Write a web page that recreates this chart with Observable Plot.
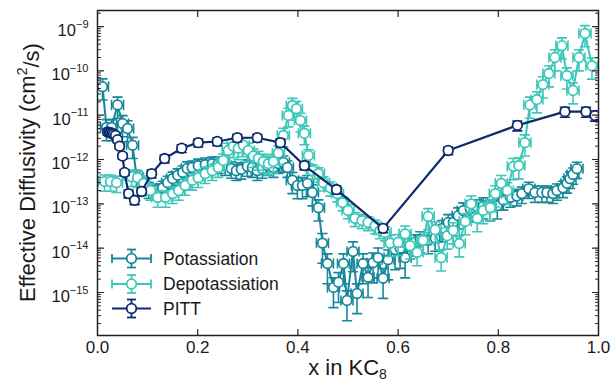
<!DOCTYPE html>
<html><head><meta charset="utf-8">
<script src="https://cdn.jsdelivr.net/npm/d3@7"></script>
<script src="https://cdn.jsdelivr.net/npm/@observablehq/plot@0.6"></script>
<style>body{margin:0;background:#fff}</style>
</head><body><div id="chart"></div>
<script>
// ---------- data ----------
const potX = [0.010,0.018,0.028,0.040,0.050,0.060,0.070,0.078,0.090,0.102,0.116,0.130,0.140,0.150,0.160,0.170,0.179,0.189,0.201,0.215,0.229,0.241,0.255,0.267,0.277,0.287,0.299,0.309,0.319,0.329,0.339,0.351,0.361,0.371,0.379,0.389,0.399,0.409,0.419,0.429,0.441,0.449,0.459,0.471,0.481,0.491,0.498,0.510,0.518,0.530,0.540,0.550,0.560,0.570,0.580,0.594,0.604,0.614,0.624,0.634,0.644,0.660,0.674,0.688,0.700,0.710,0.720,0.730,0.744,0.758,0.770,0.784,0.798,0.810,0.824,0.837,0.847,0.861,0.873,0.887,0.897,0.909,0.917,0.929,0.937,0.943,0.949,0.957];
const potY = [4.4e-11,5.3e-12,5.3e-12,1.7e-11,6.5e-12,5.0e-12,2.1e-12,4.1e-13,3.0e-13,2.2e-13,2.0e-13,2.3e-13,3.0e-13,3.7e-13,4.4e-13,5.1e-13,6.3e-13,6.6e-13,7.3e-13,7.7e-13,8.1e-13,8.1e-13,7.3e-13,6.3e-13,5.6e-13,6.0e-13,7.0e-13,6.6e-13,5.6e-13,6.3e-13,7.3e-13,6.6e-13,8.1e-13,8.6e-13,6.6e-13,3.4e-13,2.6e-13,2.6e-13,2.9e-13,1.8e-13,8.2e-14,1.3e-14,4.5e-15,1.3e-15,1.7e-15,4.5e-15,6.6e-16,8.4e-15,9.5e-16,4.5e-15,2.2e-15,4.7e-15,6.1e-15,2.1e-15,5.5e-15,9.3e-15,1.0e-14,6.1e-15,1.14e-14,1.34e-14,1.56e-14,1.5e-14,1.7e-14,2.8e-14,3.8e-14,3.8e-14,5.4e-14,7.0e-14,7.8e-14,8.2e-14,9.1e-14,8.2e-14,9.1e-14,1.2e-13,1.4e-13,1.5e-13,1.7e-13,2.2e-13,1.8e-13,1.8e-13,1.8e-13,1.7e-13,2.0e-13,2.3e-13,2.9e-13,3.7e-13,4.6e-13,6.2e-13];
// relative (linear) y error of each point
const potErr = [0.5,0.5,0.5,0.5,0.5,0.5,0.5,
  0.4,0.4,0.4,0.4,0.4,0.4,0.4,0.4,0.4,0.4,0.4,0.4,0.4,0.4,0.4,0.4,0.4,0.4,0.4,0.4,0.4,0.4,0.4,0.4,0.4,0.4,0.4,0.4,
  0.5,0.5,0.5,0.5,0.5,0.5,
  0.65,0.65,0.65,0.65,0.65,0.65,0.65,0.65,0.65,0.65,0.65,0.65,0.65,0.65,0.65,0.65,0.65,
  0.5,0.5,0.5,0.5,0.5,0.5,0.5,0.5,0.5,0.5,0.5,0.5,0.5,0.5,0.5,
  0.4,0.4,0.4,0.4,0.4,0.4,0.4,0.4,0.4,0.4,0.4,0.4,0.4,0.4,0.4];
const potXErr = 0.012;

const depX = [0.014,0.026,0.038,0.068,0.080,0.092,0.106,0.120,0.136,0.150,0.162,0.175,0.189,0.201,0.215,0.229,0.241,0.251,0.261,0.271,0.281,0.291,0.301,0.311,0.321,0.331,0.341,0.351,0.361,0.371,0.381,0.389,0.397,0.405,0.413,0.421,0.429,0.441,0.451,0.465,0.479,0.489,0.500,0.514,0.528,0.540,0.554,0.564,0.574,0.584,0.600,0.614,0.624,0.638,0.650,0.660,0.674,0.686,0.698,0.710,0.722,0.734,0.746,0.758,0.770,0.784,0.794,0.806,0.818,0.830,0.841,0.853,0.863,0.877,0.889,0.901,0.913,0.927,0.937,0.949,0.961,0.973,0.987];
const depY = [3.2e-13,3.2e-13,3.0e-13,4.1e-13,3.9e-13,2.9e-13,2.0e-13,1.4e-13,1.4e-13,1.7e-13,2.0e-13,2.6e-13,3.4e-13,3.9e-13,4.8e-13,5.6e-13,6.6e-13,9.5e-13,1.6e-12,2.0e-12,1.8e-12,2.1e-12,1.6e-12,1.2e-12,1.05e-12,9.0e-13,8.1e-13,9.0e-13,1.4e-12,3.5e-12,9.9e-12,1.65e-11,1.4e-11,7.6e-12,3.9e-12,1.23e-12,5.6e-13,4.8e-13,3.0e-13,2.3e-13,1.7e-13,1.07e-13,7.1e-14,4.7e-14,4.2e-14,3.8e-14,3.2e-14,2.5e-14,2.25e-14,1.3e-14,1.35e-14,2.1e-14,1.14e-14,8.0e-15,1.5e-14,5.2e-14,2.6e-14,6.1e-15,1.9e-14,2.5e-14,1.27e-14,4.0e-14,1.0e-13,4.7e-14,7.1e-14,8.2e-14,1.7e-13,2.9e-13,2.0e-13,7.0e-13,7.3e-13,2.4e-12,1.7e-11,2.25e-11,4.9e-11,8.7e-11,2.0e-10,3.7e-10,7.8e-11,3.6e-11,2.0e-10,7.0e-10,1.3e-10];
const depErr = [0.4,0.4,0.4,0.4,0.4,0.4,0.4,0.4,0.4,0.4,0.4,0.4,0.4,0.4,0.4,0.4,0.4,0.4,
  0.45,0.45,0.45,0.45,0.45,0.45,0.45,0.45,0.45,0.45,0.45,0.45,0.45,0.45,0.45,0.45,0.45,
  0.35,0.35,0.35,0.35,0.35,0.35,0.35,0.35,0.35,0.35,0.35,0.35,0.35,0.35,
  0.5,0.5,0.5,0.5,0.5,0.5,0.5,0.5,0.5,0.5,0.5,0.5,0.5,0.5,0.5,0.5,0.5,
  0.5,0.5,0.5,0.5,0.5,0.5,0.5,0.5,0.5,0.5,0.5,0.5,0.5,0.5,0.5,0.5,0.5];
const depXErr = 0.012;

const pittX = [0.020,0.023,0.026,0.029,0.032,0.036,0.040,0.044,0.050,0.054,0.062,0.074,0.088,0.108,0.134,0.168,0.201,0.239,0.279,0.319,0.365,0.413,0.477,0.570,0.700,0.838,0.933,0.975,0.993];
const pittY = [4.2e-12,4.1e-12,4.0e-12,3.9e-12,3.7e-12,3.5e-12,2.8e-12,2.0e-12,1.2e-12,5.1e-13,1.7e-13,1.2e-13,1.9e-13,4.8e-13,1.05e-12,1.8e-12,2.4e-12,2.55e-12,3.1e-12,3.1e-12,2.4e-12,7.3e-13,2.1e-13,2.8e-14,1.6e-12,5.9e-12,1.2e-11,1.2e-11,9.8e-12];
const pittErr = [0.15,0.15,0.15,0.15,0.15,0.15,0.15,0.15,0.15,0.15,0.2,0.2,0.2,0.2,0.2,0.2,0.2,0.2,0.2,0.2,0.2,0.2,0.2,0.2,0.2,0.25,0.25,0.25,0.25];

const seriesNames = ["Potassiation", "Depotassiation", "PITT"];
const seriesColors = ["#17879a", "#3dc7b9", "#0c2b6c"];

const xTicks = [0, 0.2, 0.4, 0.6, 0.8, 1.0];
const yTicks = [1e-9, 1e-10, 1e-11, 1e-12, 1e-13, 1e-14, 1e-15];
const yDomain = [1.07e-16, 2.3e-9];
const yMinor = [];
for (let k = -17; k <= -9; k++) for (let m = 2; m <= 9; m++) {
  const v = m * Math.pow(10, k);
  if (v > yDomain[0] && v < yDomain[1]) yMinor.push(v);
}

// ---------- build ----------
function rows(xs, ys, fs, xe) {
  return xs.map((x, i) => ({x, y: ys[i], lo: ys[i] * (1 - fs[i]), hi: ys[i] * (1 + fs[i]),
    x1: xe == null ? x : x - xe, x2: xe == null ? x : x + xe}));
}
const pot = rows(potX, potY, potErr, potXErr);
const dep = rows(depX, depY, depErr, depXErr);
const pitt = rows(pittX, pittY, pittErr, null);

const line = {draw(ctx, l) { ctx.moveTo(0, 0); ctx.lineTo(0, -l); }};

function seriesMarks(data, color, {xbars = true, sw = 1.6, lw = 2} = {}) {
  const m = [];
  m.push(Plot.ruleX(data, {x: "x", y1: "lo", y2: "hi", stroke: color, strokeWidth: sw, clip: true}));
  m.push(Plot.vector(data, {x: "x", y: "lo", rotate: 90, length: 9, anchor: "middle", shape: line, stroke: color, strokeWidth: sw, clip: true}));
  m.push(Plot.vector(data, {x: "x", y: "hi", rotate: 90, length: 9, anchor: "middle", shape: line, stroke: color, strokeWidth: sw, clip: true}));
  if (xbars) {
    m.push(Plot.ruleY(data, {y: "y", x1: "x1", x2: "x2", stroke: color, strokeWidth: sw, clip: true}));
    m.push(Plot.vector(data, {x: "x1", y: "y", rotate: 0, length: 9, anchor: "middle", shape: line, stroke: color, strokeWidth: sw, clip: true}));
    m.push(Plot.vector(data, {x: "x2", y: "y", rotate: 0, length: 9, anchor: "middle", shape: line, stroke: color, strokeWidth: sw, clip: true}));
  }
  m.push(Plot.line(data, {x: "x", y: "y", stroke: color, strokeWidth: lw, clip: true}));
  m.push(Plot.dot(data, {x: "x", y: "y", r: 4.8, fill: "white", stroke: color, strokeWidth: 1.8, clip: true}));
  return m;
}

const tickColor = "#222";
const plot = Plot.plot({
  width: 611, height: 383,
  marginLeft: 97, marginRight: 13, marginTop: 10, marginBottom: 48,
  x: {domain: [0, 1]},
  y: {type: "log", domain: yDomain},
  style: {fontFamily: "'Liberation Sans', Arial, sans-serif", background: "white", color: "#1a1a1a"},
  marks: [
    ...seriesMarks(pot, seriesColors[0]),
    ...seriesMarks(dep, seriesColors[1]),
    ...seriesMarks(pitt, seriesColors[2], {xbars: false, lw: 2.2}),
    // inward ticks on all four sides
    Plot.vector(yTicks, {y: d => d, frameAnchor: "left", rotate: 90, length: 6, anchor: "start", shape: line, stroke: tickColor, strokeWidth: 1.2}),
    Plot.vector(yMinor, {y: d => d, frameAnchor: "left", rotate: 90, length: 3, anchor: "start", shape: line, stroke: tickColor, strokeWidth: 1}),
    Plot.vector(yTicks, {y: d => d, frameAnchor: "right", rotate: -90, length: 6, anchor: "start", shape: line, stroke: tickColor, strokeWidth: 1.2}),
    Plot.vector(yMinor, {y: d => d, frameAnchor: "right", rotate: -90, length: 3, anchor: "start", shape: line, stroke: tickColor, strokeWidth: 1}),
    Plot.vector(xTicks.slice(1, -1), {x: d => d, frameAnchor: "bottom", rotate: 0, length: 6, anchor: "start", shape: line, stroke: tickColor, strokeWidth: 1.2}),
    Plot.vector(xTicks.slice(1, -1), {x: d => d, frameAnchor: "top", rotate: 180, length: 6, anchor: "start", shape: line, stroke: tickColor, strokeWidth: 1.2}),
    Plot.axisX({ticks: xTicks, tickSize: 0, tickPadding: 5, tickFormat: d3.format(".1f"), fontSize: 17, label: null}),
    Plot.axisY({ticks: yTicks, tickSize: 0, tickPadding: 9, tickFormat: d => String(Math.round(Math.log10(d))), fontSize: 16.5, label: null}),
    Plot.frame({stroke: "#222", strokeWidth: 1.5})
  ]
});
document.getElementById("chart").appendChild(plot);

// ---------- typographic touches ----------
const svg = d3.select(plot);
svg.selectAll('g[aria-label="y-axis tick label"] text').each(function () {
  const e = this.textContent.replace("-", "\u2212");
  const t = d3.select(this);
  t.text(null);
  t.append("tspan").attr("dy", "0.25em").text("10");
  t.append("tspan").attr("dy", "-0.75em").style("font-size", "11px").text(e);
});

const font = "'Liberation Sans', Arial, sans-serif";
const yt = svg.append("text")
  .attr("transform", "translate(35,172.5) rotate(-90)")
  .attr("text-anchor", "middle").attr("fill", "#1a1a1a")
  .style("font-family", font).style("font-size", "22px");
yt.append("tspan").text("Effective Diffusivity (cm");
yt.append("tspan").attr("dy", "-0.55em").style("font-size", "14px").text("2");
yt.append("tspan").attr("dy", "0.55em").text("/s)");

const xt = svg.append("text")
  .attr("x", 347.5).attr("y", 375)
  .attr("text-anchor", "middle").attr("fill", "#1a1a1a")
  .style("font-family", font).style("font-size", "22px");
xt.append("tspan").text("x in KC");
xt.append("tspan").attr("dy", "0.25em").style("font-size", "14px").text("8");

// legend
const lg = svg.append("g");
const legendRows = [258.5, 284, 308.5];
seriesNames.forEach((name, i) => {
  const c = seriesColors[i], cy = legendRows[i], cx = 131.5;
  const g = lg.append("g").attr("stroke", c).attr("stroke-width", 1.8).attr("fill", "none");
  g.append("line").attr("x1", 112).attr("x2", 151).attr("y1", cy).attr("y2", cy);
  if (i < 2) {
    g.append("line").attr("x1", 112).attr("x2", 112).attr("y1", cy - 4.5).attr("y2", cy + 4.5);
    g.append("line").attr("x1", 151).attr("x2", 151).attr("y1", cy - 4.5).attr("y2", cy + 4.5);
  }
  g.append("line").attr("x1", cx).attr("x2", cx).attr("y1", cy - 9).attr("y2", cy + 9);
  g.append("line").attr("x1", cx - 4.5).attr("x2", cx + 4.5).attr("y1", cy - 9).attr("y2", cy - 9);
  g.append("line").attr("x1", cx - 4.5).attr("x2", cx + 4.5).attr("y1", cy + 9).attr("y2", cy + 9);
  g.append("circle").attr("cx", cx).attr("cy", cy).attr("r", 4.8).attr("fill", "white");
  lg.append("text").attr("x", 163).attr("y", cy + 6.3).attr("fill", "#1a1a1a")
    .attr("text-anchor", "start")
    .style("font-family", font).style("font-size", "17.5px").text(name);
});
</script>
</body></html>
